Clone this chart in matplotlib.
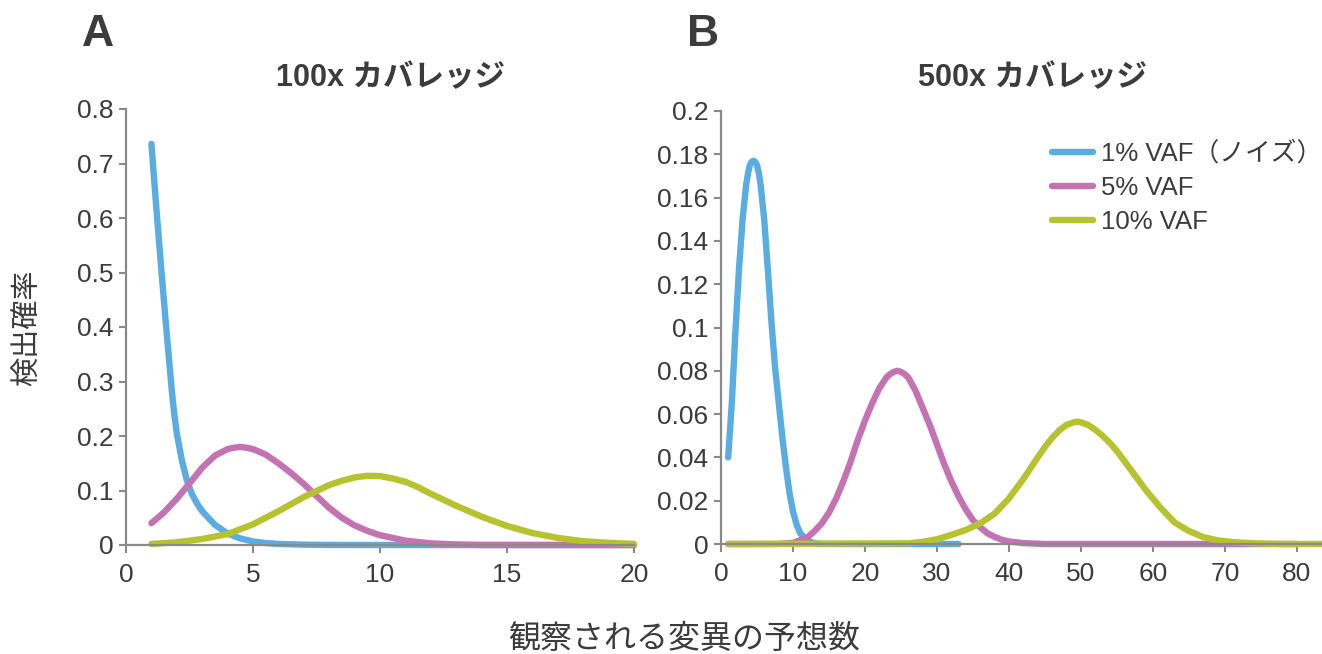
import matplotlib
matplotlib.use("Agg")
import matplotlib.pyplot as plt

plt.rcParams['font.family'] = ['Liberation Sans', 'Noto Sans CJK JP', 'DejaVu Sans']

# panel A: 100x coverage
a_blue_x = [1.0, 1.2, 1.4, 1.6, 1.8, 1.9, 2.0, 2.2, 2.4, 2.6, 2.8, 3.0, 3.5, 4.0, 4.5, 5, 5.5,
            6, 7, 8, 9, 20]
a_blue_y = [0.736, 0.615, 0.50, 0.39, 0.285, 0.24, 0.205, 0.155, 0.118, 0.093, 0.076, 0.062,
            0.037, 0.021, 0.012, 0.0065, 0.0035, 0.002, 0.0006, 0.0001, 0, 0]
a_pink_x = [1, 1.5, 2, 2.5, 3, 3.5, 4, 4.25, 4.5, 4.75, 5, 5.5, 6, 6.5, 7, 7.5, 8, 8.5, 9,
            9.5, 10, 11, 12, 13, 14, 20]
a_pink_y = [0.040, 0.060, 0.085, 0.113, 0.142, 0.164, 0.176, 0.1785, 0.180, 0.1785, 0.176,
            0.166, 0.150, 0.132, 0.112, 0.090, 0.068, 0.050, 0.036, 0.026, 0.018, 0.008, 0.003,
            0.001, 0.0, 0.0]
a_green_x = [1, 2, 2.5, 3, 4, 5, 6, 7, 8, 8.5, 9, 9.5, 10, 10.5, 11, 11.5, 12, 13, 14, 15, 16,
             17, 18, 19, 20]
a_green_y = [0.002, 0.005, 0.008, 0.011, 0.02, 0.038, 0.062, 0.088, 0.110, 0.118, 0.124, 0.127,
             0.1265, 0.122, 0.116, 0.106, 0.094, 0.072, 0.052, 0.035, 0.022, 0.013, 0.007,
             0.004, 0.002]

# panel B: 500x coverage
b_blue_x = [1, 1.5, 2, 2.5, 3, 3.5, 3.75, 4, 4.25, 4.5, 4.75, 5, 5.25, 5.5, 6, 6.5, 7, 7.5, 8,
            8.5, 9, 9.5, 10, 10.5, 11, 12, 13, 14, 33]
b_blue_y = [0.040, 0.065, 0.098, 0.127, 0.150, 0.166, 0.171, 0.175, 0.1765, 0.177, 0.1765,
            0.175, 0.1715, 0.166, 0.150, 0.127, 0.103, 0.082, 0.066, 0.050, 0.036, 0.024, 0.015,
            0.009, 0.005, 0.0015, 0.0004, 0, 0]
b_pink_x = [1, 8, 10, 12, 13, 14, 15, 16, 17, 18, 19, 20, 21, 22, 23, 23.5, 24, 24.5, 25, 25.5,
            26, 27, 28, 29, 30, 31, 32, 33, 34, 35, 36, 37, 38, 39, 40, 42, 45, 80]
b_pink_y = [0, 0, 0.0005, 0.003, 0.006, 0.0095, 0.0145, 0.021, 0.029, 0.038, 0.048, 0.057,
            0.065, 0.072, 0.077, 0.0785, 0.0795, 0.0800, 0.0795, 0.0785, 0.077, 0.071, 0.063,
            0.055, 0.046, 0.037, 0.029, 0.022, 0.016, 0.011, 0.0078, 0.005, 0.0033, 0.002,
            0.0012, 0.0004, 0, 0]
b_green_x = [1, 26, 28, 30, 32, 34, 36, 38, 40, 42, 44, 45, 46, 47, 48, 49, 49.5, 50, 51, 52,
             53, 54, 55, 57, 59, 61, 63, 65, 67, 69, 71, 74, 78, 84]
b_green_y = [0, 0.0003, 0.001, 0.0022, 0.0042, 0.0065, 0.0095, 0.014, 0.021, 0.030, 0.040,
             0.0448, 0.049, 0.0525, 0.055, 0.0562, 0.0565, 0.0562, 0.055, 0.0528, 0.050,
             0.0468, 0.043, 0.034, 0.025, 0.017, 0.010, 0.006, 0.0032, 0.0017, 0.0009, 0.0003,
             0, 0]

labels = ['1% VAF\uff08\u30ce\u30a4\u30ba\uff09', '5% VAF', '10% VAF']
colors = ['#5aade0', '#c572b3', '#b6c32f']
a_ticks = [0, 5, 10, 15, 20]
b_ticks = [0, 10, 20, 30, 40, 50, 60, 70, 80]

text_col = '#3c3c3c'
spine_col = '#8a8a8a'

W, H = 1322, 654
fig = plt.figure(figsize=(W / 100, H / 100), dpi=100)


def frac(x0, y0, x1, y1):
    # pixel box -> figure fraction
    return [x0 / W, 1 - y1 / H, (x1 - x0) / W, (y1 - y0) / H]


def style(ax):
    for s in ['top', 'right']:
        ax.spines[s].set_visible(False)
    for s in ['left', 'bottom']:
        ax.spines[s].set_color(spine_col)
        ax.spines[s].set_linewidth(1.6)
    ax.tick_params(colors=spine_col, width=1.5, labelsize=19, labelcolor=text_col)
    ax.tick_params(axis='x', length=6, pad=7)
    ax.tick_params(axis='y', length=5, pad=4)


axA = fig.add_axes(frac(126, 109, 634, 545))
axB = fig.add_axes(frac(721, 111, 1322, 544))

lines = []
for x, y, c in zip([a_blue_x, a_pink_x, a_green_x], [a_blue_y, a_pink_y, a_green_y], colors):
    axA.plot(x, y, color=c, lw=4.6, solid_capstyle='round', solid_joinstyle='round', clip_on=False)
for x, y, c, lab in zip([b_blue_x, b_pink_x, b_green_x], [b_blue_y, b_pink_y, b_green_y], colors, labels):
    ln, = axB.plot(x, y, color=c, lw=4.6, solid_capstyle='round', solid_joinstyle='round',
                   clip_on=False, label=lab)
    lines.append(ln)

axA.set_xlim(0, 20)
axA.set_ylim(0, 0.8)
axA.set_xticks(a_ticks)
axA.set_yticks([0, 0.1, 0.2, 0.3, 0.4, 0.5, 0.6, 0.7, 0.8])
axA.set_yticklabels(['0', '0.1', '0.2', '0.3', '0.4', '0.5', '0.6', '0.7', '0.8'])
style(axA)

axB.set_xlim(0, 83.5)
axB.set_ylim(0, 0.2)
axB.set_xticks(b_ticks)
axB.set_yticks([0, 0.02, 0.04, 0.06, 0.08, 0.1, 0.12, 0.14, 0.16, 0.18, 0.2])
axB.set_yticklabels(['0', '0.02', '0.04', '0.06', '0.08', '0.1', '0.12', '0.14', '0.16', '0.18', '0.2'])
style(axB)

axB.legend(handles=lines, loc='upper left', bbox_to_anchor=(1052 / W, 1 - 141 / H),
           bbox_transform=fig.transFigure, frameon=False, fontsize=18.5, handlelength=1.6,
           handletextpad=0.3, labelspacing=0.4, labelcolor=text_col, borderaxespad=0,
           borderpad=0)

fig.text(98 / W, 1 - 35 / H, 'A', fontsize=32, fontweight='bold', color=text_col,
         ha='center', va='center')
fig.text(703 / W, 1 - 35 / H, 'B', fontsize=32, fontweight='bold', color=text_col,
         ha='center', va='center')
fig.text(391 / W, 1 - 78 / H, '100x カバレッジ', fontsize=22, fontweight='bold', color=text_col,
         ha='center', va='center')
fig.text(1033 / W, 1 - 78 / H, '500x カバレッジ', fontsize=22, fontweight='bold', color=text_col,
         ha='center', va='center')
fig.text(28 / W, 1 - 328 / H, '検出確率', fontsize=21, color=text_col, rotation=90,
         ha='center', va='center')
fig.text(684 / W, 1 - 640 / H, '観察される変異の予想数', fontsize=23, color=text_col,
         ha='center', va='center')

fig.savefig('out.png', dpi=100)
